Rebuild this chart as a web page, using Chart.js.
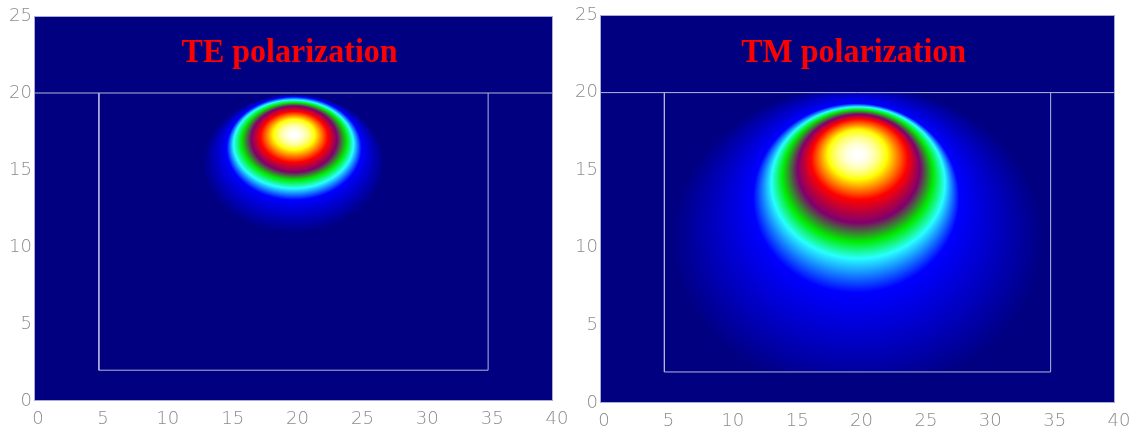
<!DOCTYPE html>
<html>
<head>
<meta charset="utf-8">
<script src="https://cdn.jsdelivr.net/npm/chart.js@4"></script>
<style>
  html, body { margin: 0; background: #fff; }
  #wrap { position: relative; width: 1136px; height: 427px; }
  canvas { position: absolute; top: 0; }
</style>
</head>
<body>
<div id="wrap">
  <canvas id="teChart" width="575" height="427" style="left:0"></canvas>
  <canvas id="tmChart" width="570" height="427" style="left:566px"></canvas>
</div>
<script>
// axes
const xTicks = [0, 5, 10, 15, 20, 25, 30, 35, 40];
const yTicks = [0, 5, 10, 15, 20, 25];
const titles = ['TE polarization', 'TM polarization'];

// waveguide core outline and the top interface (um)
const coreX = [5, 5, 35, 35];
const coreY = [20, 2, 2, 20];
const interfaceX = [0, 40];
const interfaceY = [20, 20];

// colour of each intensity contour, outermost first, last one is the peak
const levelColors = [
  [0, 0, 128], [0, 0, 255], [40, 255, 255], [0, 235, 0],
  [128, 0, 110], [255, 0, 0], [255, 255, 0], [255, 255, 255]
];

// TE mode contours: centre and half-axes of each level (um)
const teCx = [20, 20.05, 20, 20.05, 20.05, 20.05, 20.05, 20];
const teCy = [15.4, 16.4, 16.68, 16.86, 17.0, 17.15, 17.3, 17.38];
const teRx = [7, 5.2, 4.62, 4.05, 3.3, 2.6, 1.6, 0];
const teRy = [4.5, 3.35, 2.87, 2.51, 2.15, 1.65, 1.0, 0];

// TM mode contours
const tmCx = [20, 19.9, 20.05, 20.04, 20.1, 20.15, 20.0, 19.92];
const tmCy = [10.5, 13.2, 14.2, 14.65, 15.1, 15.7, 16.0, 16.2];
const tmRx = [14.5, 8.0, 6.74, 5.83, 4.75, 3.75, 2.3, 0];
const tmRy = [10, 6.1, 4.88, 4.24, 3.5, 2.6, 1.6, 0];

function fieldColor(x, y, f) {
  const n = f.cx.length;
  const d = [];
  let k = -1;
  for (let i = 0; i < n - 1; i++) {
    d[i] = Math.hypot((x - f.cx[i]) / f.rx[i], (y - f.cy[i]) / f.ry[i]);
    if (d[i] < 1) k = i;
  }
  if (k < 0) return levelColors[0];
  let t;
  if (k === n - 2) {
    // flat top towards the peak
    t = 1 - d[k] * d[k];
  } else {
    const a = (1 - d[k]) * (f.rx[k] + f.ry[k]) / 2;
    const b = (d[k + 1] - 1) * (f.rx[k + 1] + f.ry[k + 1]) / 2;
    t = a / (a + b);
  }
  const c0 = levelColors[k], c1 = levelColors[k + 1];
  return [0, 1, 2].map(j => c0[j] + (c1[j] - c0[j]) * t);
}

function fieldPlugin(field, title) {
  return {
    id: 'modeField',
    beforeDatasetsDraw(chart) {
      const { ctx, chartArea: a, scales: { x, y } } = chart;
      const w = Math.round(a.right - a.left), h = Math.round(a.bottom - a.top);
      const off = document.createElement('canvas');
      off.width = w; off.height = h;
      const octx = off.getContext('2d');
      const img = octx.createImageData(w, h);
      const bg = levelColors[0];
      for (let py = 0; py < h; py++) {
        const vy = y.getValueForPixel(a.top + py + 0.5);
        for (let px = 0; px < w; px++) {
          const vx = x.getValueForPixel(a.left + px + 0.5);
          const inCore = vx >= coreX[0] && vx <= coreX[2] && vy >= coreY[1] && vy <= coreY[0];
          const c = inCore ? fieldColor(vx, vy, field) : bg;
          const o = (py * w + px) * 4;
          img.data[o] = c[0]; img.data[o + 1] = c[1]; img.data[o + 2] = c[2]; img.data[o + 3] = 255;
        }
      }
      octx.putImageData(img, 0, 0);
      ctx.drawImage(off, a.left, a.top);
    },
    afterDatasetsDraw(chart) {
      const { ctx, chartArea: a, scales: { x, y } } = chart;
      ctx.save();
      ctx.strokeStyle = '#a8acd4';
      ctx.lineWidth = 1;
      ctx.strokeRect(a.left + 0.5, a.top + 0.5, a.right - a.left - 1, a.bottom - a.top - 1);
      ctx.translate(x.getPixelForValue(19.7), y.getPixelForValue(22));
      ctx.scale(1, 1.08);
      ctx.fillStyle = '#ff0000';
      ctx.font = 'bold 32px "Liberation Serif"';
      ctx.textAlign = 'center';
      ctx.textBaseline = 'alphabetic';
      ctx.fillText(title, 0, 0);
      ctx.restore();
    }
  };
}

function toPoints(xs, ys) {
  return xs.map((v, i) => ({ x: v, y: ys[i] }));
}

const tickFont = { family: 'DejaVu Sans', size: 18, weight: '200' };

function makeChart(id, field, title, pad, xHeight) {
  return new Chart(document.getElementById(id), {
    type: 'scatter',
    data: {
      datasets: [
        { data: toPoints(coreX, coreY), showLine: true, borderColor: '#b4b6da', borderWidth: 1, pointRadius: 0 },
        { data: toPoints(interfaceX, interfaceY), showLine: true, borderColor: '#b4b6da', borderWidth: 1, pointRadius: 0 }
      ]
    },
    options: {
      responsive: false,
      animation: false,
      layout: { padding: pad },
      plugins: { legend: { display: false }, tooltip: { enabled: false } },
      scales: {
        x: {
          type: 'linear', min: 0, max: 40,
          grid: { display: false, drawTicks: false },
          border: { display: false },
          afterBuildTicks: s => { s.ticks = xTicks.map(v => ({ value: v })); },
          afterFit: s => { s.height = xHeight; s.paddingLeft = 0; s.paddingRight = 0; },
          ticks: { color: '#8c8c8c', font: tickFont, padding: 8, labelOffset: 4, maxRotation: 0, autoSkip: false }
        },
        y: {
          type: 'linear', min: 0, max: 25,
          grid: { display: false, drawTicks: false },
          border: { display: false },
          afterBuildTicks: s => { s.ticks = yTicks.map(v => ({ value: v })); },
          afterFit: s => { s.width = 34; s.paddingTop = 0; s.paddingBottom = 0; },
          ticks: { color: '#8c8c8c', font: tickFont, padding: 2, autoSkip: false }
        }
      }
    },
    plugins: [fieldPlugin(field, title)]
  });
}

makeChart('teChart', { cx: teCx, cy: teCy, rx: teRx, ry: teRy }, titles[0],
  { top: 16, right: 22, left: 0, bottom: 0 }, 26);
makeChart('tmChart', { cx: tmCx, cy: tmCy, rx: tmRx, ry: tmRy }, titles[1],
  { top: 15, right: 21, left: 0, bottom: 0 }, 24);
</script>
</body>
</html>
